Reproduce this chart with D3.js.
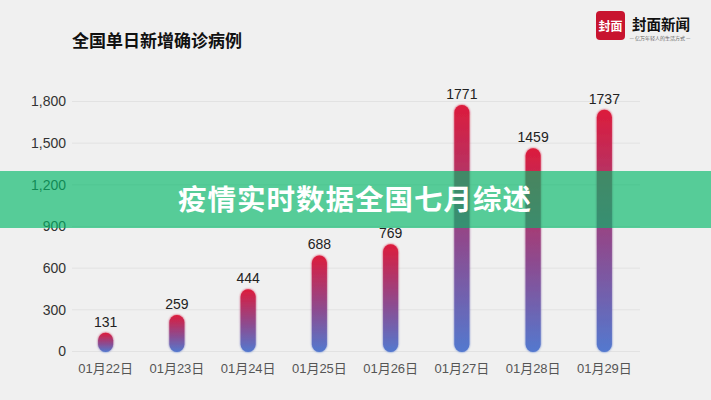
<!DOCTYPE html>
<html><head><meta charset="utf-8">
<script src="https://cdn.jsdelivr.net/npm/d3@7"></script>
<style>
html,body{margin:0;padding:0;background:#f0f0f0;}
svg{display:block;font-family:"Liberation Sans","Noto Sans CJK SC",sans-serif;}
</style></head><body>
<svg id="c" width="711" height="400"></svg>
<script>
const categories = ["01月22日","01月23日","01月24日","01月25日","01月26日","01月27日","01月28日","01月29日"];
const values = [131, 259, 444, 688, 769, 1771, 1459, 1737];
const yTicks = [0, 300, 600, 900, 1200, 1500, 1800];
const title = "全国单日新增确诊病例";
const banner = "疫情实时数据全国七月综述";

const svg = d3.select("#c");
svg.append("rect").attr("width",711).attr("height",400).attr("fill","#f0f0f0");

const x = d3.scaleBand().domain(categories).range([70,640]);
const y = d3.scaleLinear().domain([0,1800]).range([351,101]);

const defs = svg.append("defs");
const g = defs.append("linearGradient").attr("id","barGrad").attr("x1",0).attr("y1",0).attr("x2",0).attr("y2",1);
g.append("stop").attr("offset","0%").attr("stop-color","#dc1c3c");
g.append("stop").attr("offset","55%").attr("stop-color","#8e4a8e");
g.append("stop").attr("offset","100%").attr("stop-color","#5379cf");
const f = defs.append("filter").attr("id","glow").attr("x","-50%").attr("y","-10%").attr("width","200%").attr("height","120%");
f.append("feGaussianBlur").attr("in","SourceGraphic").attr("stdDeviation",1.2).attr("result","b");
const fm = f.append("feMerge");
fm.append("feMergeNode").attr("in","b");
fm.append("feMergeNode").attr("in","SourceGraphic");

// title
svg.append("text").attr("x",72).attr("y",47).attr("font-size",17).attr("font-weight","bold")
  .attr("fill","#111").style("font-family","'Noto Sans CJK SC',sans-serif").text(title);

// logo
const logo = svg.append("g");
logo.append("rect").attr("x",596).attr("y",11).attr("width",29).attr("height",29).attr("rx",4).attr("fill","#c8142f");
logo.append("text").attr("x",610.5).attr("y",31).attr("text-anchor","middle").attr("font-size",12).attr("font-weight","bold")
  .attr("fill","#fff").style("font-family","'Noto Sans CJK SC',serif").text("封面");
logo.append("text").attr("x",632).attr("y",30).attr("font-size",14.5).attr("font-weight","bold")
  .attr("fill","#111").style("font-family","'Noto Sans CJK SC',serif").text("封面新闻");
logo.append("text").attr("x",660).attr("y",39.5).attr("text-anchor","middle").attr("font-size",5)
  .attr("fill","#666").style("font-family","'Noto Sans CJK SC',serif").text("— 亿万年轻人的生活方式 —");

// grid
const yAxis = d3.axisLeft(y).tickValues(yTicks).tickSize(-(640-72)).tickFormat(d3.format(",")).tickPadding(6);
const ga = svg.append("g").attr("transform","translate(72,0)").call(yAxis);
ga.select(".domain").remove();
ga.selectAll(".tick line").attr("stroke","#e2e2e2");
ga.selectAll(".tick text").attr("font-size",14).attr("fill","#333").attr("dy","0.35em")
  .style("font-family","'Liberation Sans',sans-serif");

// x labels
const xAxis = d3.axisBottom(x).tickSize(0).tickPadding(0);
const gx = svg.append("g").attr("transform","translate(0,360)").call(xAxis);
gx.select(".domain").remove();
gx.selectAll(".tick text").attr("font-size",13).attr("fill","#555").attr("dy","13")
  .style("font-family","'Liberation Sans','Noto Sans CJK SC',sans-serif");

// bars
const bw = 15;
svg.append("g").selectAll("rect").data(values).join("rect")
  .attr("x",(d,i)=>x(categories[i])+x.bandwidth()/2-bw/2)
  .attr("y",d=>y(d))
  .attr("width",bw)
  .attr("height",d=>y(0)-y(d)+1)
  .attr("rx",bw/2)
  .attr("fill","url(#barGrad)")
  .attr("filter","url(#glow)");

// value labels
svg.append("g").selectAll("text").data(values).join("text")
  .attr("x",(d,i)=>x(categories[i])+x.bandwidth()/2)
  .attr("y",d=>y(d)-6)
  .attr("text-anchor","middle").attr("font-size",14).attr("fill","#222")
  .style("font-family","'Liberation Sans',sans-serif")
  .text(d=>d);

// banner
svg.append("rect").attr("x",0).attr("y",171).attr("width",711).attr("height",57).attr("fill","rgba(3,185,105,0.65)");
svg.append("text").attr("x",355).attr("y",210).attr("text-anchor","middle").attr("font-size",28.5)
  .attr("font-weight","bold").attr("fill","#fff").attr("letter-spacing",1)
  .style("font-family","'Noto Sans CJK SC',sans-serif").text(banner);
</script>
</body></html>
